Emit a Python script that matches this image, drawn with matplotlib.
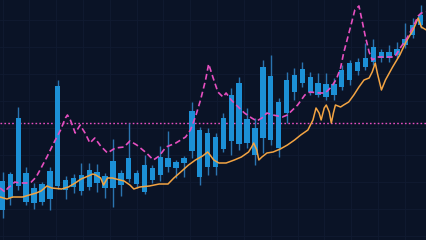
import matplotlib
matplotlib.use("Agg")
import matplotlib.pyplot as plt
import numpy as np

# candle data (arbitrary price units), one entry per session
high = [68, 68, 133, 73, 57, 58, 73, 160, 64, 66, 77, 77, 76, 67, 101, 70, 117, 70, 85, 75,
        94, 109, 80, 84, 138, 113, 112, 107, 127, 152, 163, 132, 122, 180, 185, 142, 168, 172, 178, 168,
        167, 167, 162, 175, 180, 182, 197, 201, 191, 195, 198, 217, 222, 235, 245]
body_top = [59, 66, 122, 67, 52, 56, 69, 154, 60, 62, 65, 70, 68, 64, 79, 67, 82, 67, 75, 72,
            83, 82, 78, 82, 129, 110, 107, 103, 122, 145, 157, 121, 112, 173, 164, 138, 160, 165, 171, 163,
            157, 156, 156, 170, 177, 178, 182, 193, 188, 188, 191, 201, 215, 225, 240]
body_bot = [30, 42, 54, 38, 37, 38, 41, 54, 50, 53, 49, 53, 57, 52, 52, 55, 61, 56, 48, 60,
            65, 73, 72, 77, 89, 63, 73, 73, 91, 99, 96, 97, 85, 102, 100, 92, 127, 148, 157, 148,
            145, 143, 145, 153, 160, 169, 173, 178, 182, 182, 185, 195, 205, 215, 233]
low = [22, 35, 50, 35, 31, 35, 30, 51, 41, 47, 45, 50, 48, 42, 33, 44, 58, 52, 46, 57,
       59, 68, 62, 63, 82, 55, 65, 65, 88, 85, 90, 92, 75, 87, 95, 83, 117, 140, 153, 145,
       143, 140, 140, 150, 155, 165, 170, 175, 178, 178, 182, 192, 202, 212, 230]

# moving average (solid orange)
ma_t = [-0.31, 0.56, 1.30, 2.54, 3.40, 4.27, 4.89, 5.63, 6.25, 7.49, 8.35, 9.22, 9.96, 10.58,
        11.45, 11.82, 12.44, 12.81, 13.31, 13.92, 15.41, 16.15, 16.65, 17.39, 18.63, 19.86,
        20.98, 21.72, 22.59, 23.58, 24.45, 25.36, 26.01, 26.40, 26.78, 27.43, 28.34, 29.38,
        30.28, 31.19, 31.58, 31.84, 32.23, 32.49, 32.88, 33.52, 34.30, 35.21, 36.11, 37.02,
        37.80, 38.71, 39.35, 39.74, 40.13, 40.39, 40.78, 41.04, 41.42, 41.68, 41.94, 42.20,
        42.85, 43.24, 43.88, 44.53, 45.18, 45.82, 46.47, 46.86, 47.25, 47.51, 48.03, 48.54,
        49.45, 50.36, 51.13, 52.04, 52.69, 53.08, 53.73]
ma_v = [43, 41, 43, 43, 45, 47, 49, 54, 52, 51, 53, 57, 61, 63,
        66, 65, 62, 55, 62, 62, 59, 55, 51, 53, 54, 56,
        56, 62, 68, 75, 80, 84, 88, 84, 80, 77, 77, 80,
        83, 88, 93, 97, 90, 80, 83, 87, 88, 91, 95, 100,
        105, 110, 120, 132, 127, 120, 132, 135, 128, 117, 127, 135,
        133, 135, 138, 145, 153, 160, 162, 168, 177, 167, 150, 160,
        173, 185, 198, 210, 222, 213, 210]

# second indicator (dashed pink)
ind_t = [-0.31, 0.31, 0.68, 1.18, 1.55, 2.17, 3.03, 3.65, 4.27, 4.89, 5.63, 6.50, 7.36, 7.98,
         8.23, 8.60, 9.22, 9.84, 10.46, 11.08, 11.70, 12.44, 13.31, 14.29, 15.41, 16.15, 17.02,
         18.25, 19.12, 19.86, 20.73, 21.97, 23.21, 23.82, 24.45, 25.10, 25.74, 26.13, 26.66,
         27.30, 27.95, 28.34, 28.99, 29.89, 30.67, 31.58, 32.23, 32.88, 33.52, 34.30, 35.47,
         36.11, 37.41, 38.32, 38.96, 40.26, 40.91, 41.68, 42.33, 42.85, 43.24, 44.01, 44.66,
         45.18, 45.56, 45.95, 46.47, 46.86, 47.51, 48.54, 49.71, 50.49, 51.13, 52.04, 52.69,
         53.08, 53.73]
ind_v = [52, 48, 52, 55, 58, 57, 57, 58, 63, 72, 83, 97, 110, 122,
         125, 120, 107, 115, 107, 97, 102, 94, 87, 92, 93, 99, 95,
         87, 80, 84, 93, 97, 103, 110, 123, 140, 160, 176, 163,
         148, 143, 147, 140, 133, 127, 122, 119, 122, 127, 125, 123,
         125, 135, 145, 148, 147, 147, 153, 161, 172, 187, 210, 230,
         234, 220, 205, 188, 180, 183, 183, 183, 193, 200, 213, 224,
         227, 228]

level = 117

bg = "#0a1326"
candle_col = "#1c90d6"
wick_col = "#2b74b0"
orange = "#f3a443"
pink = "#e64fc0"

fig = plt.figure(figsize=(4.26, 2.4), dpi=100)
fig.patch.set_facecolor(bg)
ax = fig.add_axes([0, 0, 1, 1])
ax.set_facecolor(bg)

x = np.arange(len(high))
ax.vlines(x, low, high, color=wick_col, lw=1.0, zorder=2)
heights = np.array(body_top) - np.array(body_bot)
ax.bar(x, heights, bottom=body_bot, width=0.68, color=candle_col, zorder=3)

ax.plot(ma_t, ma_v, color=orange, lw=1.1, zorder=4)
ax.plot(ind_t, ind_v, color=pink, lw=1.2, dashes=(3.5, 2), zorder=5)
ax.axhline(level, color=pink, lw=1.0, dashes=(1.2, 1.6), zorder=1)

ax.set_xlim(-0.317, 53.68)
ax.set_ylim(0, 240)
ax.set_xticks(np.arange(0, 54, 3.4))
ax.set_yticks(np.arange(4, 240, 27))
ax.grid(True, color="#101b31", lw=0.6)
ax.set_axisbelow(True)
ax.tick_params(length=0, labelbottom=False, labelleft=False)
for s in ax.spines.values():
    s.set_visible(False)

fig.savefig("out.png", dpi=100, facecolor=bg)
